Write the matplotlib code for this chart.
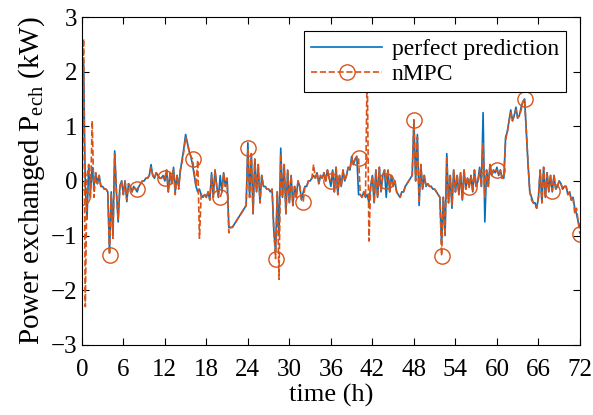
import numpy as np
import matplotlib
matplotlib.use('Agg')
import matplotlib.pyplot as plt

plt.rcParams['font.family'] = ['Liberation Serif', 'DejaVu Serif']
plt.rcParams['mathtext.fontset'] = 'custom'
plt.rcParams['mathtext.rm'] = 'Liberation Serif'

# time axis: one sample every 15 min over 72 h
time_h = np.arange(289) * 0.25

# perfect prediction (kW), 8 samples = 2 h per row
perfect = [
    0.2, 2.2, -0.1, -0.7, 0.3, -0.2, 0.25, -0.1,
    0.15, -0.05, 0.1, -0.1, -0.1, -0.15, -0.15, -0.2,
    -1.3, -0.2, -1.0, 0.55, -0.2, -0.75, -0.1, 0.0,
    -0.25, 0.0, -0.38, -0.05, -0.1, -0.2, -0.1, -0.15,
    -0.2, -0.1, -0.05, 0.0, 0.0, 0.05, 0.05, 0.1,
    0.3, 0.1, 0.05, 0.15, 0.1, 0.05, 0.05, 0.1,
    0.0, 0.2, -0.2, 0.15, -0.05, 0.25, -0.2, 0.1,
    -0.1, 0.2, 0.4, 0.6, 0.85, 0.7, 0.55, 0.45,
    0.3, 0.1, -0.1, -0.2, -0.15, -0.25, -0.3, -0.25,
    -0.3, -0.2, -0.35, 0.15, -0.3, 0.2, -0.1, -0.3,
    0.1, -0.2, 0.15, -0.1, 0.05, -0.85, -0.85, -0.85,
    -0.8, -0.75, -0.7, -0.65, -0.6, -0.55, -0.5, -0.45,
    0.7, -0.3, 0.5, -0.6, 0.4, -0.2, 0.3, -0.4,
    0.1, -0.1, -0.1, -0.15, -0.15, -0.2, -0.15, -0.9,
    -1.3, -0.2, -1.0, 0.6, -0.3, 0.3, -0.6, 0.2,
    -0.4, 0.1, -0.45, -0.1, -0.3, 0.0, -0.1, -0.35,
    -0.2, -0.1, -0.1, 0.0, 0.0, 0.05, 0.1, 0.05,
    0.15, -0.05, 0.1, 0.05, 0.15, 0.0, 0.2, 0.05,
    -0.1, 0.2, -0.2, 0.25, -0.25, 0.1, -0.1, 0.2,
    0.0, 0.1, 0.25, 0.2, 0.45, 0.3, 0.4, 0.45,
    -0.25, -0.25, -0.3, -0.2, -0.3, -0.25, -0.4, -0.1,
    0.1, -0.4, 0.2, -0.3, 0.25, -0.2, 0.1, 0.2,
    -0.3, 0.2, -0.2, 0.1, -0.1, 0.0, -0.2, -0.25,
    -0.3, -0.2, -0.2, -0.1, -0.05, 0.0, 0.05, 0.1,
    1.1, 0.0, 0.85, -0.45, 0.3, -0.15, 0.1, -0.1,
    -0.05, -0.1, -0.1, -0.15, -0.15, -0.2, -0.25, -0.3,
    -1.15, -0.3, -1.0, 0.5, -0.4, 0.1, -0.5, 0.2,
    -0.2, 0.1, -0.25, 0.15, -0.35, 0.2, -0.15, 0.05,
    -0.1, 0.1, -0.2, 0.2, -0.1, 0.0, 0.25, -0.1,
    1.25, -0.75, 0.2, -0.1, 0.3, 0.1, 0.2, 0.15,
    0.25, 0.1, 0.2, 0.05, 0.05, 0.8, 0.9, 1.1,
    1.3, 1.1, 1.2, 1.35, 1.15, 1.2, 1.35, 1.45,
    1.5, 0.9, 0.3, -0.2, -0.3, -0.4, -0.4, -0.5,
    -0.3, 0.2, -0.4, 0.25, -0.3, 0.15, -0.2, 0.1,
    -0.2, 0.1, -0.15, -0.1, 0.0, -0.05, -0.15, -0.1,
    -0.1, -0.25, -0.2, -0.35, -0.3, -0.5, -0.6, -0.75,
    -0.85,
]

# nMPC (kW)
nmpc = [
    -0.3, 2.6, -2.3, 0.1, 0.3, -0.3, 1.1, -0.3,
    0.15, -0.05, 0.1, -0.1, -0.1, -0.15, -0.15, -0.2,
    -1.35, -0.25, -1.05, 0.5, -0.2, -0.7, -0.1, 0.0,
    -0.25, 0.0, -0.35, -0.05, -0.1, -0.2, -0.1, -0.15,
    -0.15, -0.1, -0.05, 0.0, 0.0, 0.05, 0.05, 0.1,
    0.25, 0.1, 0.05, 0.15, 0.1, 0.05, 0.05, 0.1,
    0.05, 0.2, -0.2, 0.15, -0.05, 0.2, -0.25, 0.1,
    -0.15, 0.2, 0.35, 0.55, 0.8, 0.7, 0.55, 0.45,
    0.4, 0.15, -0.1, 0.38, -1.05, -0.25, -0.3, -0.25,
    -0.3, -0.2, -0.35, 0.1, -0.3, 0.2, -0.1, -0.3,
    -0.3, -0.2, 0.15, -0.1, 0.05, -0.95, -0.85, -0.85,
    -0.8, -0.75, -0.7, -0.65, -0.6, -0.55, -0.5, -0.45,
    0.6, -0.3, 0.5, -0.6, 0.4, -0.2, 0.3, -0.4,
    0.1, -0.1, -0.1, -0.15, -0.15, -0.2, -0.15, -0.9,
    -1.42, -0.2, -1.8, 0.5, -0.3, 0.3, -0.6, 0.2,
    -0.4, 0.1, -0.45, -0.1, -0.3, 0.0, -0.1, -0.35,
    -0.38, -0.1, -0.1, 0.0, 0.0, 0.05, 0.3, 0.05,
    0.15, -0.05, 0.1, 0.05, 0.15, 0.0, 0.2, 0.05,
    0.0, 0.2, -0.2, 0.25, -0.25, 0.1, -0.1, 0.2,
    0.0, 0.1, 0.25, 0.2, 0.4, 0.3, 0.4, 0.45,
    0.42, -0.25, -0.3, -0.2, -0.3, 2.1, -1.1, -0.1,
    0.1, -0.4, 0.2, -0.3, 0.25, -0.2, 0.1, 0.2,
    0.0, 0.2, -0.2, 0.1, -0.1, 0.0, -0.2, -0.25,
    -0.3, -0.2, -0.2, -0.1, -0.05, 0.0, 0.05, 0.1,
    1.12, 0.0, 0.8, -0.4, 0.3, -0.15, 0.1, -0.1,
    -0.05, -0.1, -0.1, -0.15, -0.15, -0.2, -0.25, -0.3,
    -1.37, -0.3, -1.0, 0.45, -0.4, 0.1, -0.45, 0.2,
    -0.2, 0.1, -0.25, 0.15, -0.35, 0.2, -0.15, 0.05,
    -0.12, 0.1, -0.2, 0.2, -0.1, 0.0, 0.2, -0.1,
    0.7, -0.3, 0.2, -0.1, 0.3, 0.1, 0.2, 0.15,
    0.2, 0.1, 0.2, 0.05, 0.05, 0.75, 0.9, 1.1,
    1.25, 1.1, 1.2, 1.3, 1.15, 1.2, 1.3, 1.45,
    1.5, 0.9, 0.3, -0.2, -0.35, -0.4, -0.45, -0.5,
    -0.3, 0.2, -0.4, 0.25, -0.3, 0.15, -0.2, 0.1,
    -0.18, 0.1, -0.15, -0.1, 0.0, -0.05, -0.15, -0.1,
    -0.1, -0.25, -0.2, -0.35, -0.3, -0.6, -0.5, -0.75,
    -0.97,
]

x_ticks = list(range(0, 73, 6))
y_ticks = [-3, -2, -1, 0, 1, 2, 3]

fig = plt.figure(figsize=(5.93, 4.15), dpi=100)
ax = fig.add_axes([0.138, 0.169, 0.840, 0.790])

ax.plot(time_h, perfect, color='#0072BD', lw=1.2, label='perfect prediction')
ax.plot(time_h, nmpc, color='#D95319', lw=1.2, ls='--', marker='o', markevery=16,
        ms=11, mfc='none', mec='#D95319', mew=1.0, label='nMPC')

ax.set_xlim(0, 72)
ax.set_ylim(-3, 3)
ax.set_xticks(x_ticks)
ax.set_yticks(y_ticks)
ax.tick_params(direction='in', top=True, right=True, labelsize=18, length=5, width=0.8)
ax.tick_params(axis='x', pad=10)
ax.tick_params(axis='y', pad=3)
for s in ax.spines.values():
    s.set_linewidth(0.8)

ax.set_xlabel('time (h)', fontsize=19, labelpad=2)
ax.set_ylabel(r'Power exchanged P$_{\mathrm{ech}}$ (kW)', fontsize=21, labelpad=3)

leg = ax.legend(loc='upper right', fontsize=17, fancybox=False, framealpha=1,
                edgecolor='black', handlelength=3.0, borderaxespad=0.6,
                borderpad=0.3, labelspacing=0.15, handletextpad=0.4)
leg.get_frame().set_linewidth(0.8)

fig.savefig('out.png', dpi=100)
